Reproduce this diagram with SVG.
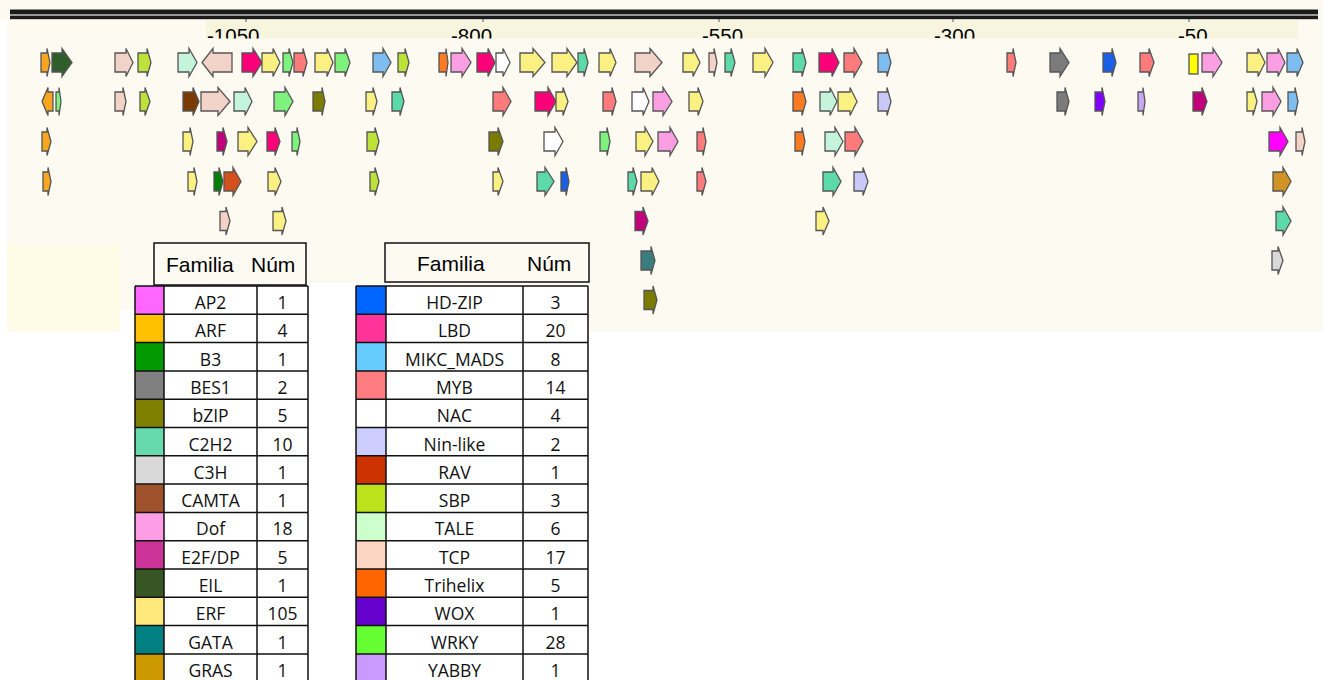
<svg xmlns="http://www.w3.org/2000/svg" width="1323" height="680" viewBox="0 0 1323 680">
<style>
.bg{fill:#fdfaf2}
.band{fill:#f7f5de}
.lbl{font-family:"Liberation Sans",Arial,sans-serif;font-size:20.5px;fill:#000}
.hdr{font-family:"Liberation Sans",Arial,sans-serif;font-size:21px;fill:#000}
.cell{font-family:"Open Sans","Liberation Sans",sans-serif;font-size:17.5px;fill:#111;text-anchor:middle}
.grid{stroke:#111;stroke-width:1.5;fill:none}
.hbox{fill:#fdfaf2;stroke:#111;stroke-width:1.5}
.a polygon,.a rect{stroke:#555;stroke-width:1.3;stroke-linejoin:miter}
.arf{fill:#f8a51f}.eil{fill:#2f5e2a}.tcp{fill:#f3d3c8}.sbp{fill:#bde33a}.tale{fill:#c5f4dc}
.lbd{fill:#fb0078}.erf{fill:#fbf183}.wrky{fill:#7ef27c}.myb{fill:#fd7b7b}.mikc{fill:#7dbdf0}
.tri{fill:#fb7a22}.dof{fill:#fb9fe2}.nac{fill:#ffffff}.c2h2{fill:#5cdaa7}.bes1{fill:#7b7b7b}
.hdzip{fill:#1b5fe6}.ylw{fill:#ffff00}.camta{fill:#7b3a02}.bzip{fill:#7b7b00}.nin{fill:#c9c9f9}
.wox{fill:#7f00ff}.yabby{fill:#caa5f2}.e2f{fill:#c1007c}.b3{fill:#008000}.rav{fill:#d4501c}
.ap2{fill:#ff00ff}.gras{fill:#d19424}.gata{fill:#3b7d7d}.c3h{fill:#d9d9d9}
</style>
<defs>
<clipPath id="bandClip"><rect x="0" y="20" width="1323" height="18.5"/></clipPath>
</defs>

<!-- canvas -->
<rect x="0" y="0" width="1323" height="680" fill="#ffffff"/>
<rect class="bg" x="0" y="0" width="1323" height="20"/>
<rect class="bg" x="7" y="20" width="1316" height="312"/>
<rect x="7" y="244" width="113" height="86" fill="#fffbe6"/>
<rect x="120" y="310" width="15" height="22" fill="#ffffff"/>
<rect x="308" y="283" width="48" height="49" fill="#ffffff"/>

<!-- coordinate ruler -->
<g id="ruler">
  <rect x="10" y="9.5" width="1308" height="4.5" fill="#1a1a1a"/>
  <rect x="10" y="14" width="1308" height="2" fill="#9a9a9a"/>
  <rect x="10" y="16" width="1308" height="3.2" fill="#1a1a1a"/>
  <rect class="band" x="206" y="20.5" width="1092" height="18"/>
  <g stroke="#555" stroke-width="1">
    <line x1="246" y1="19" x2="246" y2="22"/>
    <line x1="483" y1="19" x2="483" y2="22"/>
    <line x1="719" y1="19" x2="719" y2="22"/>
    <line x1="953" y1="19" x2="953" y2="22"/>
    <line x1="1189" y1="19" x2="1189" y2="22"/>
  </g>
  <g clip-path="url(#bandClip)">
    <text class="lbl" x="207" y="42.5">-1050</text>
    <text class="lbl" x="451" y="42.5">-800</text>
    <text class="lbl" x="702" y="42.5">-550</text>
    <text class="lbl" x="934" y="42.5">-300</text>
    <text class="lbl" x="1178" y="42.5">-50</text>
  </g>
</g>

<!-- gene tracks -->
<g id="track-1" class="a">
  <polygon class="arf" points="41,53 47,53 47,48.5 50,62.5 47,76.5 47,72 41,72"/>
  <polygon class="eil" points="52,53 62,53 62,48.5 72,62.5 62,76.5 62,72 52,72"/>
  <polygon class="tcp" points="115,53 126,53 126,48.5 133,62.5 126,76.5 126,72 115,72"/>
  <polygon class="sbp" points="138,53 147,53 147,48.5 151,62.5 147,76.5 147,72 138,72"/>
  <polygon class="tale" points="178,53 189,53 189,48.5 197,62.5 189,76.5 189,72 178,72"/>
  <polygon class="tcp" points="232,53 213,53 213,48.5 202,62.5 213,76.5 213,72 232,72"/>
  <polygon class="lbd" points="242,53 253,53 253,48.5 262,62.5 253,76.5 253,72 242,72"/>
  <polygon class="erf" points="262,53 273,53 273,48.5 280,62.5 273,76.5 273,72 262,72"/>
  <polygon class="wrky" points="283,53 289,53 289,48.5 293,62.5 289,76.5 289,72 283,72"/>
  <polygon class="myb" points="294,53 303,53 303,48.5 307,62.5 303,76.5 303,72 294,72"/>
  <polygon class="erf" points="315,53 327,53 327,48.5 333,62.5 327,76.5 327,72 315,72"/>
  <polygon class="wrky" points="335,53 345,53 345,48.5 350,62.5 345,76.5 345,72 335,72"/>
  <polygon class="mikc" points="373,53 383,53 383,48.5 391,62.5 383,76.5 383,72 373,72"/>
  <polygon class="sbp" points="398,53 405,53 405,48.5 409,62.5 405,76.5 405,72 398,72"/>
  <polygon class="tri" points="439,53 446,53 446,48.5 448,62.5 446,76.5 446,72 439,72"/>
  <polygon class="dof" points="451,53 462,53 462,48.5 471,62.5 462,76.5 462,72 451,72"/>
  <polygon class="lbd" points="477,53 488,53 488,48.5 495,62.5 488,76.5 488,72 477,72"/>
  <polygon class="nac" points="496,53 503,53 503,48.5 510,62.5 503,76.5 503,72 496,72"/>
  <polygon class="erf" points="520,53 533,53 533,48.5 545,62.5 533,76.5 533,72 520,72"/>
  <polygon class="erf" points="552,53 567,53 567,48.5 577,62.5 567,76.5 567,72 552,72"/>
  <polygon class="c2h2" points="578,53 584,53 584,48.5 588,62.5 584,76.5 584,72 578,72"/>
  <polygon class="erf" points="599,53 610,53 610,48.5 616,62.5 610,76.5 610,72 599,72"/>
  <polygon class="tcp" points="635,53 650,53 650,48.5 662,62.5 650,76.5 650,72 635,72"/>
  <polygon class="erf" points="683,53 693,53 693,48.5 700,62.5 693,76.5 693,72 683,72"/>
  <polygon class="tcp" points="709,53 714,53 714,48.5 717,62.5 714,76.5 714,72 709,72"/>
  <polygon class="c2h2" points="725,53 731,53 731,48.5 735,62.5 731,76.5 731,72 725,72"/>
  <polygon class="erf" points="753,53 765,53 765,48.5 773,62.5 765,76.5 765,72 753,72"/>
  <polygon class="c2h2" points="793,53 802,53 802,48.5 806,62.5 802,76.5 802,72 793,72"/>
  <polygon class="lbd" points="819,53 832,53 832,48.5 839,62.5 832,76.5 832,72 819,72"/>
  <polygon class="myb" points="844,53 854,53 854,48.5 862,62.5 854,76.5 854,72 844,72"/>
  <polygon class="mikc" points="878,53 887,53 887,48.5 891,62.5 887,76.5 887,72 878,72"/>
  <polygon class="myb" points="1007,53 1013,53 1013,48.5 1016,62.5 1013,76.5 1013,72 1007,72"/>
  <polygon class="bes1" points="1050,53 1060,53 1060,48.5 1069,62.5 1060,76.5 1060,72 1050,72"/>
  <polygon class="hdzip" points="1103,53 1112,53 1112,48.5 1116,62.5 1112,76.5 1112,72 1103,72"/>
  <polygon class="myb" points="1140,53 1149,53 1149,48.5 1154,62.5 1149,76.5 1149,72 1140,72"/>
  <rect class="ylw" x="1189" y="54" width="9" height="20"/>
  <polygon class="dof" points="1202,53 1213,53 1213,48.5 1222,62.5 1213,76.5 1213,72 1202,72"/>
  <polygon class="erf" points="1247,53 1258,53 1258,48.5 1265,62.5 1258,76.5 1258,72 1247,72"/>
  <polygon class="dof" points="1267,53 1278,53 1278,48.5 1285,62.5 1278,76.5 1278,72 1267,72"/>
  <polygon class="mikc" points="1287,53 1297,53 1297,48.5 1303,62.5 1297,76.5 1297,72 1287,72"/>
</g>

<g id="track-2" class="a">
  <polygon class="arf" points="53,92 48,92 48,87.5 42,101.5 48,115.5 48,111 53,111"/>
  <polygon class="wrky" points="56,92 59,92 59,87.5 61,101.5 59,115.5 59,111 56,111"/>
  <polygon class="tcp" points="115,92 123,92 123,87.5 126,101.5 123,115.5 123,111 115,111"/>
  <polygon class="sbp" points="140,92 145,92 145,87.5 150,101.5 145,115.5 145,111 140,111"/>
  <polygon class="camta" points="183,92 193,92 193,87.5 199,101.5 193,115.5 193,111 183,111"/>
  <polygon class="tcp" points="201,92 218,92 218,87.5 230,101.5 218,115.5 218,111 201,111"/>
  <polygon class="tale" points="234,92 245,92 245,87.5 252,101.5 245,115.5 245,111 234,111"/>
  <polygon class="wrky" points="274,92 285,92 285,87.5 293,101.5 285,115.5 285,111 274,111"/>
  <polygon class="bzip" points="313,92 322,92 322,87.5 325,101.5 322,115.5 322,111 313,111"/>
  <polygon class="erf" points="366,92 373,92 373,87.5 377,101.5 373,115.5 373,111 366,111"/>
  <polygon class="c2h2" points="392,92 400,92 400,87.5 404,101.5 400,115.5 400,111 392,111"/>
  <polygon class="myb" points="493,92 503,92 503,87.5 511,101.5 503,115.5 503,111 493,111"/>
  <polygon class="lbd" points="535,92 548,92 548,87.5 556,101.5 548,115.5 548,111 535,111"/>
  <polygon class="erf" points="556,92 563,92 563,87.5 568,101.5 563,115.5 563,111 556,111"/>
  <polygon class="myb" points="603,92 612,92 612,87.5 616,101.5 612,115.5 612,111 603,111"/>
  <polygon class="nac" points="632,92 643,92 643,87.5 649,101.5 643,115.5 643,111 632,111"/>
  <polygon class="dof" points="653,92 663,92 663,87.5 672,101.5 663,115.5 663,111 653,111"/>
  <polygon class="erf" points="689,92 698,92 698,87.5 703,101.5 698,115.5 698,111 689,111"/>
  <polygon class="tri" points="793,92 802,92 802,87.5 806,101.5 802,115.5 802,111 793,111"/>
  <polygon class="tale" points="820,92 830,92 830,87.5 837,101.5 830,115.5 830,111 820,111"/>
  <polygon class="erf" points="838,92 850,92 850,87.5 857,101.5 850,115.5 850,111 838,111"/>
  <polygon class="nin" points="878,92 887,92 887,87.5 891,101.5 887,115.5 887,111 878,111"/>
  <polygon class="bes1" points="1057,92 1065,92 1065,87.5 1069,101.5 1065,115.5 1065,111 1057,111"/>
  <polygon class="wox" points="1095,92 1102,92 1102,87.5 1105,101.5 1102,115.5 1102,111 1095,111"/>
  <polygon class="yabby" points="1138,92 1143,92 1143,87.5 1145,101.5 1143,115.5 1143,111 1138,111"/>
  <polygon class="e2f" points="1193,92 1202,92 1202,87.5 1207,101.5 1202,115.5 1202,111 1193,111"/>
  <polygon class="erf" points="1247,92 1253,92 1253,87.5 1257,101.5 1253,115.5 1253,111 1247,111"/>
  <polygon class="dof" points="1262,92 1273,92 1273,87.5 1281,101.5 1273,115.5 1273,111 1262,111"/>
  <polygon class="mikc" points="1288,92 1295,92 1295,87.5 1298,101.5 1295,115.5 1295,111 1288,111"/>
</g>

<g id="track-3" class="a">
  <polygon class="arf" points="42,132 47,132 47,127.5 51,141.5 47,155.5 47,151 42,151"/>
  <polygon class="erf" points="183,132 190,132 190,127.5 193,141.5 190,155.5 190,151 183,151"/>
  <polygon class="e2f" points="217,132 223,132 223,127.5 227,141.5 223,155.5 223,151 217,151"/>
  <polygon class="erf" points="238,132 248,132 248,127.5 257,141.5 248,155.5 248,151 238,151"/>
  <polygon class="lbd" points="267,132 275,132 275,127.5 280,141.5 275,155.5 275,151 267,151"/>
  <polygon class="wrky" points="292,132 297,132 297,127.5 300,141.5 297,155.5 297,151 292,151"/>
  <polygon class="sbp" points="367,132 375,132 375,127.5 379,141.5 375,155.5 375,151 367,151"/>
  <polygon class="bzip" points="489,132 498,132 498,127.5 503,141.5 498,155.5 498,151 489,151"/>
  <polygon class="nac" points="544,132 555,132 555,127.5 563,141.5 555,155.5 555,151 544,151"/>
  <polygon class="wrky" points="600,132 607,132 607,127.5 610,141.5 607,155.5 607,151 600,151"/>
  <polygon class="erf" points="636,132 645,132 645,127.5 653,141.5 645,155.5 645,151 636,151"/>
  <polygon class="dof" points="658,132 670,132 670,127.5 678,141.5 670,155.5 670,151 658,151"/>
  <polygon class="myb" points="697,132 703,132 703,127.5 706,141.5 703,155.5 703,151 697,151"/>
  <polygon class="tri" points="795,132 802,132 802,127.5 805,141.5 802,155.5 802,151 795,151"/>
  <polygon class="tale" points="825,132 835,132 835,127.5 843,141.5 835,155.5 835,151 825,151"/>
  <polygon class="myb" points="845,132 855,132 855,127.5 863,141.5 855,155.5 855,151 845,151"/>
  <polygon class="ap2" points="1269,132 1280,132 1280,127.5 1288,141.5 1280,155.5 1280,151 1269,151"/>
  <polygon class="tcp" points="1296,132 1302,132 1302,127.5 1305,141.5 1302,155.5 1302,151 1296,151"/>
</g>

<g id="track-4" class="a">
  <polygon class="arf" points="43,172 48,172 48,167.5 51,181.5 48,195.5 48,191 43,191"/>
  <polygon class="erf" points="188,172 194,172 194,167.5 197,181.5 194,195.5 194,191 188,191"/>
  <polygon class="b3" points="214,172 219,172 219,167.5 223,181.5 219,195.5 219,191 214,191"/>
  <polygon class="rav" points="224,172 233,172 233,167.5 241,181.5 233,195.5 233,191 224,191"/>
  <polygon class="erf" points="268,172 275,172 275,167.5 281,181.5 275,195.5 275,191 268,191"/>
  <polygon class="sbp" points="370,172 375,172 375,167.5 379,181.5 375,195.5 375,191 370,191"/>
  <polygon class="erf" points="493,172 498,172 498,167.5 503,181.5 498,195.5 498,191 493,191"/>
  <polygon class="c2h2" points="537,172 545,172 545,167.5 554,181.5 545,195.5 545,191 537,191"/>
  <polygon class="hdzip" points="561,172 566,172 566,167.5 569,181.5 566,195.5 566,191 561,191"/>
  <polygon class="c2h2" points="628,172 633,172 633,167.5 637,181.5 633,195.5 633,191 628,191"/>
  <polygon class="erf" points="641,172 652,172 652,167.5 659,181.5 652,195.5 652,191 641,191"/>
  <polygon class="myb" points="697,172 702,172 702,167.5 706,181.5 702,195.5 702,191 697,191"/>
  <polygon class="c2h2" points="823,172 833,172 833,167.5 841,181.5 833,195.5 833,191 823,191"/>
  <polygon class="nin" points="854,172 863,172 863,167.5 868,181.5 863,195.5 863,191 854,191"/>
  <polygon class="gras" points="1273,172 1283,172 1283,167.5 1291,181.5 1283,195.5 1283,191 1273,191"/>
</g>

<g id="track-5" class="a">
  <polygon class="tcp" points="220,211.5 226,211.5 226,207 230,221 226,235 226,230.5 220,230.5"/>
  <polygon class="erf" points="273,211.5 282,211.5 282,207 286,221 282,235 282,230.5 273,230.5"/>
  <polygon class="e2f" points="635,211.5 643,211.5 643,207 648,221 643,235 643,230.5 635,230.5"/>
  <polygon class="erf" points="816,211.5 823,211.5 823,207 829,221 823,235 823,230.5 816,230.5"/>
  <polygon class="c2h2" points="1276,211.5 1283,211.5 1283,207 1291,221 1283,235 1283,230.5 1276,230.5"/>
</g>

<g id="track-6" class="a">
  <polygon class="gata" points="641,251 651,251 651,246.5 655,260.5 651,274.5 651,270 641,270"/>
  <polygon class="c3h" points="1272,251 1278,251 1278,246.5 1283,260.5 1278,274.5 1278,270 1272,270"/>
</g>

<g id="track-7" class="a">
  <polygon class="bzip" points="644,290.5 653,290.5 653,286 657,300 653,314 653,309.5 644,309.5"/>
</g>

<!-- legend, first column of families -->
<g id="legend-1">
  <rect class="hbox" x="154" y="243" width="152" height="42"/>
  <text class="hdr" x="166" y="271.5">Familia</text>
  <text class="hdr" x="251" y="271.5">Núm</text>
  <rect x="135" y="286" width="173" height="400" fill="#ffffff"/>
  <g stroke="none">
    <rect x="135" y="286" width="29" height="28.3" fill="#ff66ff"/>
    <rect x="135" y="314.3" width="29" height="28.3" fill="#ffc000"/>
    <rect x="135" y="342.6" width="29" height="28.3" fill="#009a00"/>
    <rect x="135" y="370.9" width="29" height="28.3" fill="#808080"/>
    <rect x="135" y="399.2" width="29" height="28.3" fill="#808000"/>
    <rect x="135" y="427.5" width="29" height="28.3" fill="#66d9ad"/>
    <rect x="135" y="455.8" width="29" height="28.3" fill="#d9d9d9"/>
    <rect x="135" y="484.1" width="29" height="28.3" fill="#a0522d"/>
    <rect x="135" y="512.4" width="29" height="28.3" fill="#ff9ee6"/>
    <rect x="135" y="540.7" width="29" height="28.3" fill="#cc3399"/>
    <rect x="135" y="569" width="29" height="28.3" fill="#375623"/>
    <rect x="135" y="597.3" width="29" height="28.3" fill="#ffe87c"/>
    <rect x="135" y="625.6" width="29" height="28.3" fill="#008080"/>
    <rect x="135" y="653.9" width="29" height="28.3" fill="#cc9900"/>
  </g>
  <path class="grid" d="M135,286H308M135,314.3H308M135,342.6H308M135,370.9H308M135,399.2H308M135,427.5H308M135,455.8H308M135,484.1H308M135,512.4H308M135,540.7H308M135,569H308M135,597.3H308M135,625.6H308M135,653.9H308M135,286V682M164,286V682M257,286V682M308,286V682"/>
  <g class="cell">
    <text x="210.5" y="309">AP2</text><text x="282.5" y="309">1</text>
    <text x="210.5" y="337.3">ARF</text><text x="282.5" y="337.3">4</text>
    <text x="210.5" y="365.6">B3</text><text x="282.5" y="365.6">1</text>
    <text x="210.5" y="393.9">BES1</text><text x="282.5" y="393.9">2</text>
    <text x="210.5" y="422.2">bZIP</text><text x="282.5" y="422.2">5</text>
    <text x="210.5" y="450.5">C2H2</text><text x="282.5" y="450.5">10</text>
    <text x="210.5" y="478.8">C3H</text><text x="282.5" y="478.8">1</text>
    <text x="210.5" y="507.1">CAMTA</text><text x="282.5" y="507.1">1</text>
    <text x="210.5" y="535.4">Dof</text><text x="282.5" y="535.4">18</text>
    <text x="210.5" y="563.7">E2F/DP</text><text x="282.5" y="563.7">5</text>
    <text x="210.5" y="592">EIL</text><text x="282.5" y="592">1</text>
    <text x="210.5" y="620.3">ERF</text><text x="282.5" y="620.3">105</text>
    <text x="210.5" y="648.6">GATA</text><text x="282.5" y="648.6">1</text>
    <text x="210.5" y="676.9">GRAS</text><text x="282.5" y="676.9">1</text>
  </g>
</g>

<!-- legend, second column of families -->
<g id="legend-2">
  <rect class="hbox" x="385" y="243" width="204" height="39"/>
  <text class="hdr" x="417" y="270.5">Familia</text>
  <text class="hdr" x="527" y="270.5">Núm</text>
  <rect x="356" y="286" width="232" height="400" fill="#ffffff"/>
  <g stroke="none">
    <rect x="356" y="286" width="30" height="28.3" fill="#0066ff"/>
    <rect x="356" y="314.3" width="30" height="28.3" fill="#ff3399"/>
    <rect x="356" y="342.6" width="30" height="28.3" fill="#66ccff"/>
    <rect x="356" y="370.9" width="30" height="28.3" fill="#ff7c80"/>
    <rect x="356" y="399.2" width="30" height="28.3" fill="#ffffff"/>
    <rect x="356" y="427.5" width="30" height="28.3" fill="#ccccff"/>
    <rect x="356" y="455.8" width="30" height="28.3" fill="#cc3300"/>
    <rect x="356" y="484.1" width="30" height="28.3" fill="#bbe21a"/>
    <rect x="356" y="512.4" width="30" height="28.3" fill="#ccffcc"/>
    <rect x="356" y="540.7" width="30" height="28.3" fill="#fdd5c3"/>
    <rect x="356" y="569" width="30" height="28.3" fill="#ff6600"/>
    <rect x="356" y="597.3" width="30" height="28.3" fill="#6600cc"/>
    <rect x="356" y="625.6" width="30" height="28.3" fill="#66ff33"/>
    <rect x="356" y="653.9" width="30" height="28.3" fill="#cc99ff"/>
  </g>
  <path class="grid" d="M356,286H588M356,314.3H588M356,342.6H588M356,370.9H588M356,399.2H588M356,427.5H588M356,455.8H588M356,484.1H588M356,512.4H588M356,540.7H588M356,569H588M356,597.3H588M356,625.6H588M356,653.9H588M356,286V682M386,286V682M523,286V682M588,286V682"/>
  <g class="cell">
    <text x="454.5" y="309">HD-ZIP</text><text x="555.5" y="309">3</text>
    <text x="454.5" y="337.3">LBD</text><text x="555.5" y="337.3">20</text>
    <text x="454.5" y="365.6">MIKC_MADS</text><text x="555.5" y="365.6">8</text>
    <text x="454.5" y="393.9">MYB</text><text x="555.5" y="393.9">14</text>
    <text x="454.5" y="422.2">NAC</text><text x="555.5" y="422.2">4</text>
    <text x="454.5" y="450.5">Nin-like</text><text x="555.5" y="450.5">2</text>
    <text x="454.5" y="478.8">RAV</text><text x="555.5" y="478.8">1</text>
    <text x="454.5" y="507.1">SBP</text><text x="555.5" y="507.1">3</text>
    <text x="454.5" y="535.4">TALE</text><text x="555.5" y="535.4">6</text>
    <text x="454.5" y="563.7">TCP</text><text x="555.5" y="563.7">17</text>
    <text x="454.5" y="592">Trihelix</text><text x="555.5" y="592">5</text>
    <text x="454.5" y="620.3">WOX</text><text x="555.5" y="620.3">1</text>
    <text x="454.5" y="648.6">WRKY</text><text x="555.5" y="648.6">28</text>
    <text x="454.5" y="676.9">YABBY</text><text x="555.5" y="676.9">1</text>
  </g>
</g>
</svg>
